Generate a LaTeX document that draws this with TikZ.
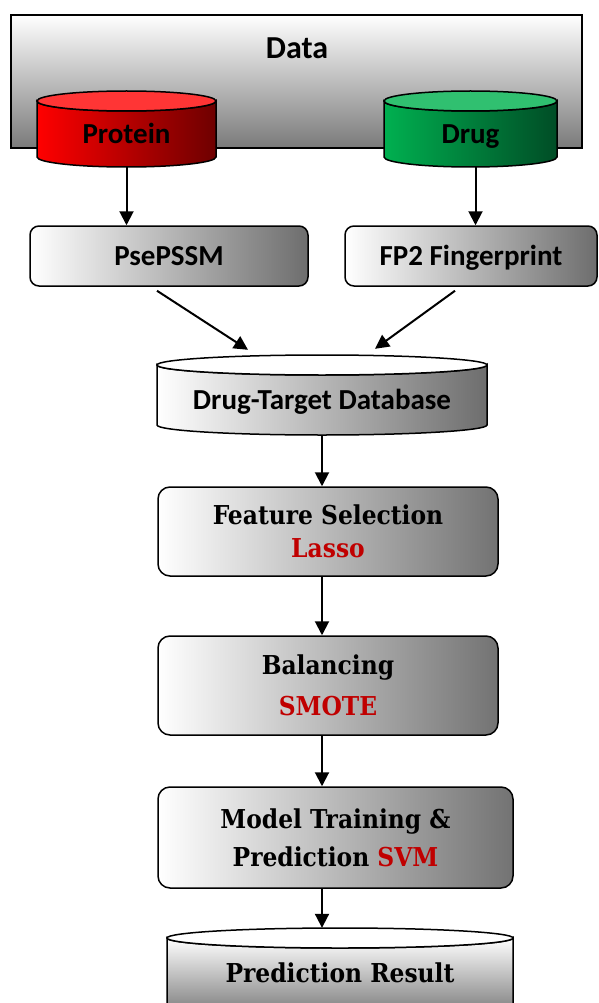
\documentclass[tikz,border=0pt]{standalone}
\usepackage{fontspec}
\newfontfamily\headfont{Carlito}
\newfontfamily\stageserif{DejaVu Serif Condensed}
\usetikzlibrary{arrows.meta}

\definecolor{protred}{HTML}{FF0000}
\definecolor{protdark}{HTML}{6E0000}
\definecolor{prottop}{HTML}{FF3535}
\definecolor{druggreen}{HTML}{00B050}
\definecolor{drugdark}{HTML}{004D26}
\definecolor{drugtop}{HTML}{30C070}
\definecolor{methodred}{HTML}{C00000}

\newcommand\sanslabel{\headfont\bfseries\fontsize{29}{32}\selectfont}
\newcommand\stagefont{\stageserif\bfseries\fontsize{26}{33}\selectfont}

\begin{document}
\begin{tikzpicture}[x=1pt,y=1pt]
 \tikzset{
  link/.style={-{Triangle[length=14pt,width=14pt]}, line width=2pt},
  outline/.style={draw=black, line width=1.5pt},
  featbox/.style={outline, rounded corners=9pt, left color=white, right color=black!57,
    font=\sanslabel, inner sep=0pt, text height=18.7pt, text depth=0pt},
  stagebox/.style={outline, rounded corners=12pt, left color=white, right color=black!55,
    font=\stagefont, align=center, inner sep=0pt},
  cyltext/.style={font=\sanslabel, inner sep=0pt, text height=18.7pt, text depth=0pt}
 }
 \useasboundingbox (0,0) rectangle (598,-1003);

 % data frame
 \draw[outline, top color=white, bottom color=black!52] (11,-15) rectangle (582,-148);
 \node[font=\headfont\bfseries\fontsize{32}{36}\selectfont] (datatitle) at (297,-48) {Data};

 % protein and drug stores
 \path[outline, left color=protred, right color=protdark] (37,-101) -- (37,-157)
   arc[start angle=180, end angle=360, x radius=89.5pt, y radius=10pt] -- (216,-101)
   arc[start angle=0, end angle=-180, x radius=89.5pt, y radius=10pt] -- cycle;
 \draw[outline, fill=prottop] (126.5,-101) ellipse[x radius=89.5pt, y radius=10pt];
 \node[cyltext, minimum width=179pt, minimum height=66pt] (protein) at (126.5,-134) {Protein};

 \path[outline, left color=druggreen, right color=drugdark] (384,-101) -- (384,-157)
   arc[start angle=180, end angle=360, x radius=86.5pt, y radius=10pt] -- (557,-101)
   arc[start angle=0, end angle=-180, x radius=86.5pt, y radius=10pt] -- cycle;
 \draw[outline, fill=drugtop] (470.5,-101) ellipse[x radius=86.5pt, y radius=10pt];
 \node[cyltext, minimum width=173pt, minimum height=66pt] (drug) at (470.5,-134) {Drug};

 % feature encodings
 \node[featbox, minimum width=278pt, minimum height=60pt] (psepssm) at (169,-256) {PsePSSM};
 \node[featbox, minimum width=252pt, minimum height=60pt] (fptwo) at (471,-256) {FP2 Fingerprint};

 % drug-target database
 \path[outline, left color=white, right color=black!57] (157,-365) -- (157,-425)
   arc[start angle=180, end angle=360, x radius=165pt, y radius=10pt] -- (487,-365)
   arc[start angle=0, end angle=-180, x radius=165pt, y radius=10pt] -- cycle;
 \draw[outline, fill=white] (322,-365) ellipse[x radius=165pt, y radius=10pt];
 \node[cyltext, minimum width=330pt, minimum height=70pt] (dtdb) at (322,-400) {Drug-Target Database};

 % pipeline stages
 \node[stagebox, minimum width=340pt, minimum height=89pt] (feat) at (328,-531.5)
   {Feature Selection\\\textcolor{methodred}{Lasso}};
 \node[stagebox, minimum width=340pt, minimum height=99pt] (bal) at (328,-685.5)
   {Balancing\\[8pt]\textcolor{methodred}{SMOTE}};
 \node[stagebox, minimum width=355pt, minimum height=101pt] (model) at (335.5,-837.5)
   {Model Training \&\\[5pt]Prediction \textcolor{methodred}{SVM}};

 % prediction result store
 \path[outline, top color=white, bottom color=black!50] (167,-938) -- (167,-1012)
   -- (513,-1012) -- (513,-938)
   arc[start angle=0, end angle=-180, x radius=173pt, y radius=10pt] -- cycle;
 \draw[outline, fill=white] (340,-938) ellipse[x radius=173pt, y radius=10pt];
 \node[font=\stagefont, inner sep=0pt, minimum width=346pt, minimum height=90pt] (result) at (340,-973) {Prediction Result};

 % connectors
 \draw[link] (protein.south) -- (protein.south |- psepssm.north);
 \draw[link] ([xshift=5pt]drug.south) -- ([xshift=5pt]drug.south |- fptwo.north);
 \draw[link] ([xshift=-12pt,yshift=-4pt]psepssm.south) -- ([xshift=-74pt,yshift=15pt]dtdb.north);
 \draw[link] ([xshift=-16pt,yshift=-4pt]fptwo.south) -- ([xshift=53pt,yshift=16pt]dtdb.north);
 \draw[link] (dtdb.south) -- (dtdb.south |- feat.north);
 \draw[link] (dtdb.south |- feat.south) -- (dtdb.south |- bal.north);
 \draw[link] (dtdb.south |- bal.south) -- (dtdb.south |- model.north);
 \draw[link] (dtdb.south |- model.south) -- (dtdb.south |- result.north);
\end{tikzpicture}
\end{document}
